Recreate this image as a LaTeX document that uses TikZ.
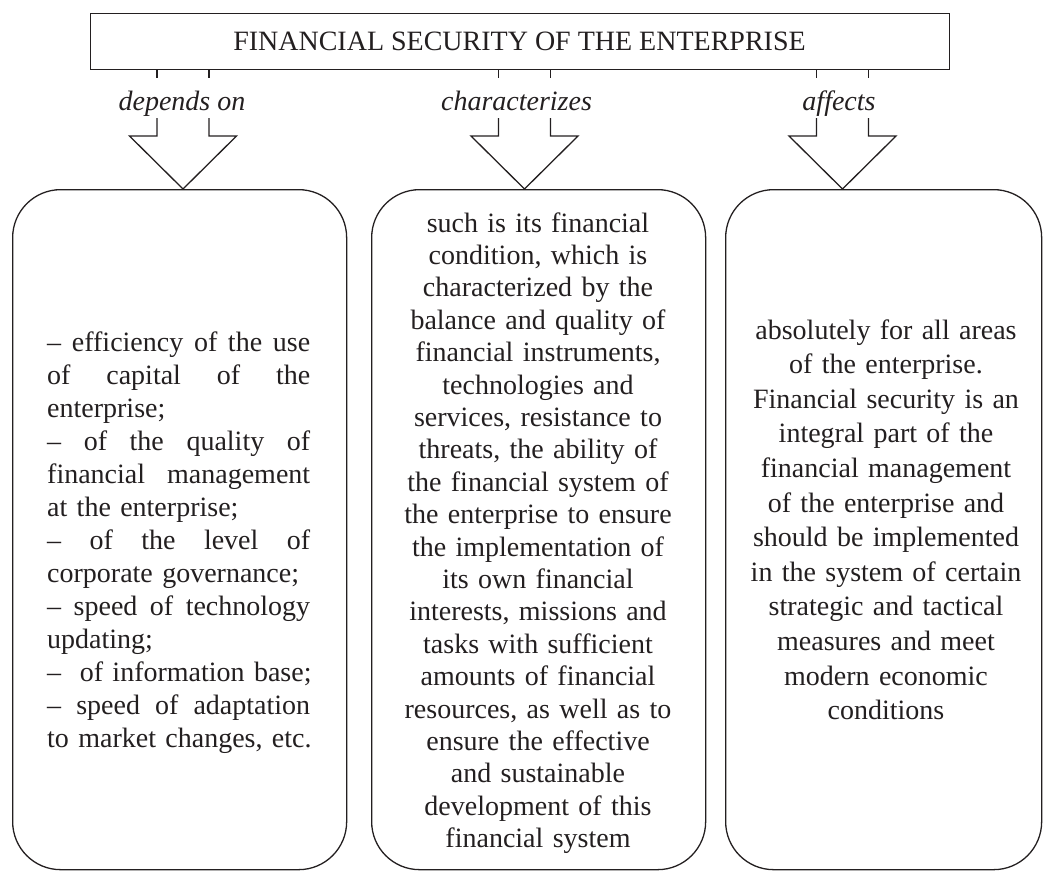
\documentclass[tikz,border=0pt]{standalone}
\usepackage{fontspec}
\setmainfont{Liberation Serif}
\definecolor{ink}{HTML}{231F20}
\newcommand\jl[1]{{\spaceskip=0pt\xspaceskip=0pt\makebox[263pt][s]{#1}}}
\begin{document}
\begin{tikzpicture}[x=1pt,y=-1pt,
  ln/.style={draw=ink,line width=1.3pt,line join=miter},
  rbox/.style={ln,rounded corners=48pt,anchor=north west,inner sep=0pt},
  txt/.style={text=ink,inner sep=0pt,font=\fontsize{28}{32.5}\selectfont},
  lab/.style={txt,anchor=base,font=\fontsize{28}{32.5}\selectfont\itshape}]
\useasboundingbox (0,0) rectangle (1043,870);

% title box
\node[ln,anchor=north west,minimum width=859pt,minimum height=56pt,inner sep=0pt] (T) at (90,13) {};
\node[txt,anchor=base] (Tt) at (519.5,50) {FINANCIAL SECURITY OF THE ENTERPRISE};

% three rounded boxes
\node[rbox,minimum width=334pt,minimum height=680pt] (L) at (12,189) {};
\node[rbox,minimum width=334pt,minimum height=680pt] (M) at (371,189) {};
\node[rbox,minimum width=316pt,minimum height=680pt] (R) at (725,189) {};

% hollow arrows
\foreach \cx/\nm in {183/A,524.5/B,842.5/C}{
  \coordinate (\nm) at (\cx,189);
  \draw[ln] (\cx-26,69) -- (\cx-26,78) (\cx+26,69) -- (\cx+26,78);
  \draw[ln] (\cx-26,118) -- (\cx-26,136) -- (\cx-53.5,136) -- (\nm) -- (\cx+53.5,136) -- (\cx+26,136) -- (\cx+26,118);
}

% labels
\node[lab] (la) at (182,110) {depends on};
\node[lab] (lb) at (516.5,110) {characterizes};
\node[lab] (lc) at (839,110) {affects};

% left text
\node[txt,anchor=base west,text width=300pt,align=left,font=\fontsize{28}{33}\selectfont] (Lt) at (47,351) {%
\jl{– efficiency of the use}\\
\jl{of capital of the}\\
enterprise;\\
\jl{– of the quality of}\\
\jl{financial management}\\
at the enterprise;\\
\jl{– of the level of}\\
corporate governance;\\
\jl{– speed of technology}\\
updating;\\
–\ \ of information base;\\
\jl{– speed of adaptation}\\
to market changes, etc.};

% middle text
\node[txt,anchor=base,text width=330pt,align=center,font=\fontsize{28}{32.4}\selectfont] (Mt) at (538,232) {%
such is its financial\\
condition, which is\\
characterized by the\\
balance and quality of\\
financial instruments,\\
technologies and\\
services, resistance to\\
threats, the ability of\\
the financial system of\\
the enterprise to ensure\\
the implementation of\\
its own financial\\
interests, missions and\\
tasks with sufficient\\
amounts of financial\\
resources, as well as to\\
ensure the effective\\
and sustainable\\
development of this\\
financial system};

% right text
\node[txt,anchor=base,text width=310pt,align=center,font=\fontsize{28}{34.6}\selectfont] (Rt) at (886,339) {%
absolutely for all areas\\
of the enterprise.\\
Financial security is an\\
integral part of the\\
financial management\\
of the enterprise and\\
should be implemented\\
in the system of certain\\
strategic and tactical\\
measures and meet\\
modern economic\\
conditions};
\end{tikzpicture}
\end{document}
